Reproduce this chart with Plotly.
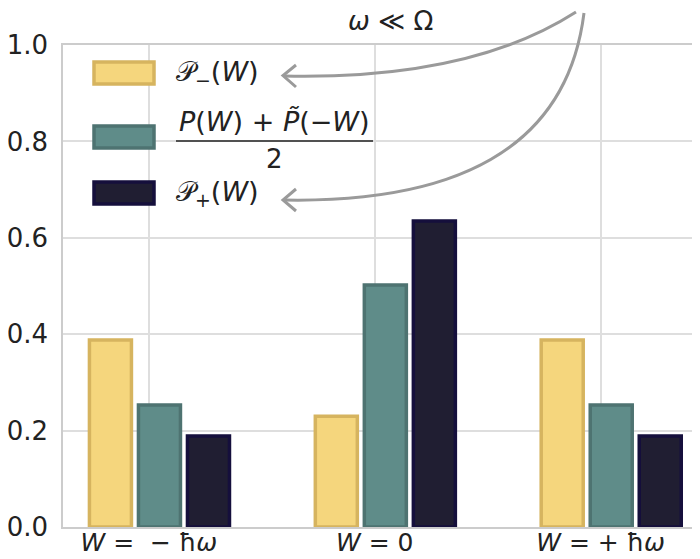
import plotly.graph_objects as go

categories = ["W=-hw", "W=0", "W=+hw"]
tick_labels = ["<i>W</i> =  − ħ<i>ω</i>", "<i>W</i> = 0", "<i>W</i> = + ħ<i>ω</i>"]
p_minus = [0.388, 0.230, 0.388]
p_avg = [0.253, 0.502, 0.253]
p_plus = [0.189, 0.635, 0.189]

series = [
    ("P-", p_minus, "#F5D67D", "#D6B45F", -0.263),
    ("avg", p_avg, "#5F8C89", "#4E7371", -0.046),
    ("P+", p_plus, "#201E32", "#150F3C", 0.171),
]

PAGE_OFF = 8  # default body margin of the html page
W, H = 700 - PAGE_OFF, 559 - PAGE_OFF
# plot area in page pixels
L, R, T, B = 63, 700, 45, 527

def px(x):
    return (x - L) / (R - L)

def py(y):
    return (B - y) / (B - T)

fig = go.Figure()
for name, vals, fill, edge, off in series:
    fig.add_trace(go.Bar(
        x=categories, y=vals, name=name, width=0.186, offset=off,
        marker=dict(color=fill, line=dict(color=edge, width=3.5)),
        showlegend=False,
    ))

shapes = []
annotations = []
font_main = "DejaVu Sans"
txt = "#222222"
# custom legend
leg = [(73, "#F5D67D", "#D6B45F"), (137, "#5F8C89", "#4E7371"), (193, "#201E32", "#150F3C")]
for cy, fill, edge in leg:
    shapes.append(dict(type="rect", xref="paper", yref="paper",
                       x0=px(94), x1=px(154), y0=py(cy - 11), y1=py(cy + 11),
                       fillcolor=fill, line=dict(color=edge, width=3.5), layer="above"))
annotations.append(dict(x=px(174), y=py(73), xref="paper", yref="paper", xanchor="left",
                        yanchor="middle", showarrow=False,
                        text="𝒫<sub>−</sub>(<i>W</i>)", font=dict(size=27, family=font_main, color=txt)))
annotations.append(dict(x=px(174), y=py(193), xref="paper", yref="paper", xanchor="left",
                        yanchor="middle", showarrow=False,
                        text="𝒫<sub>+</sub>(<i>W</i>)", font=dict(size=27, family=font_main, color=txt)))
annotations.append(dict(x=px(274), y=py(121), xref="paper", yref="paper", xanchor="center",
                        yanchor="middle", showarrow=False,
                        text="<i>P</i>(<i>W</i>) + <i>P̃</i>(−<i>W</i>)", font=dict(size=27, family=font_main, color=txt)))
annotations.append(dict(x=px(274), y=py(159), xref="paper", yref="paper", xanchor="center",
                        yanchor="middle", showarrow=False,
                        text="2", font=dict(size=26, family=font_main, color=txt)))
shapes.append(dict(type="line", xref="paper", yref="paper", x0=px(176), x1=px(373),
                   y0=py(141), y1=py(141), line=dict(color=txt, width=1.5), layer="above"))
annotations.append(dict(x=px(390), y=py(21), xref="paper", yref="paper", xanchor="center",
                        yanchor="middle", showarrow=False, borderpad=0,
                        text="<i>ω</i> ≪ Ω", font=dict(size=26, family=font_main, color=txt)))

def pathq(p0, c, p1):
    return "M {} {} Q {} {} {} {}".format(px(p0[0]), py(p0[1]), px(c[0]), py(c[1]), px(p1[0]), py(p1[1]))

def pathl(pts):
    s = "M {} {}".format(px(pts[0][0]), py(pts[0][1]))
    for x, y in pts[1:]:
        s += " L {} {}".format(px(x), py(y))
    return s

gray = "#9a9a9a"
shapes.append(dict(type="path", xref="paper", yref="paper", path=pathq((576, 12), (470, 80), (284, 76)),
                   line=dict(color=gray, width=3), layer="above"))
shapes.append(dict(type="path", xref="paper", yref="paper", path=pathq((584, 13), (560, 205), (284, 200)),
                   line=dict(color=gray, width=3), layer="above"))
shapes.append(dict(type="path", xref="paper", yref="paper", path=pathl([(296, 65), (283, 75.5), (296, 87)]),
                   line=dict(color=gray, width=3), layer="above"))
shapes.append(dict(type="path", xref="paper", yref="paper", path=pathl([(296, 189), (283, 200), (296, 211)]),
                   line=dict(color=gray, width=3), layer="above"))

fig.update_layout(
    width=W, height=H,
    margin=dict(l=L - PAGE_OFF, r=0, t=T - PAGE_OFF, b=559 - B, autoexpand=False),
    plot_bgcolor="white", paper_bgcolor="white",
    barmode="overlay",
    shapes=shapes, annotations=annotations,
    font=dict(family=font_main, size=22, color=txt),
)
fig.update_xaxes(type="category", categoryorder="array", categoryarray=categories,
                 tickvals=categories, ticktext=tick_labels, range=[-0.38, 2.44],
                 showgrid=True, gridcolor="#dedede", gridwidth=1.5, automargin=False,
                 showline=True, linecolor="#cccccc", linewidth=1.5, mirror=True,
                 ticks="", ticklen=0, ticklabelstandoff=-8,
                 tickfont=dict(size=25, family=font_main, color=txt))
fig.update_yaxes(range=[0, 1.0], tickvals=[0, 0.2, 0.4, 0.6, 0.8, 1.0], tickformat=".1f",
                 showgrid=True, gridcolor="#dedede", gridwidth=1.5, zeroline=False, automargin=False,
                 showline=True, linecolor="#cccccc", linewidth=1.5,
                 ticks="", ticklabelstandoff=8, tickfont=dict(size=26, family=font_main, color=txt))

fig.write_html("out.html")
